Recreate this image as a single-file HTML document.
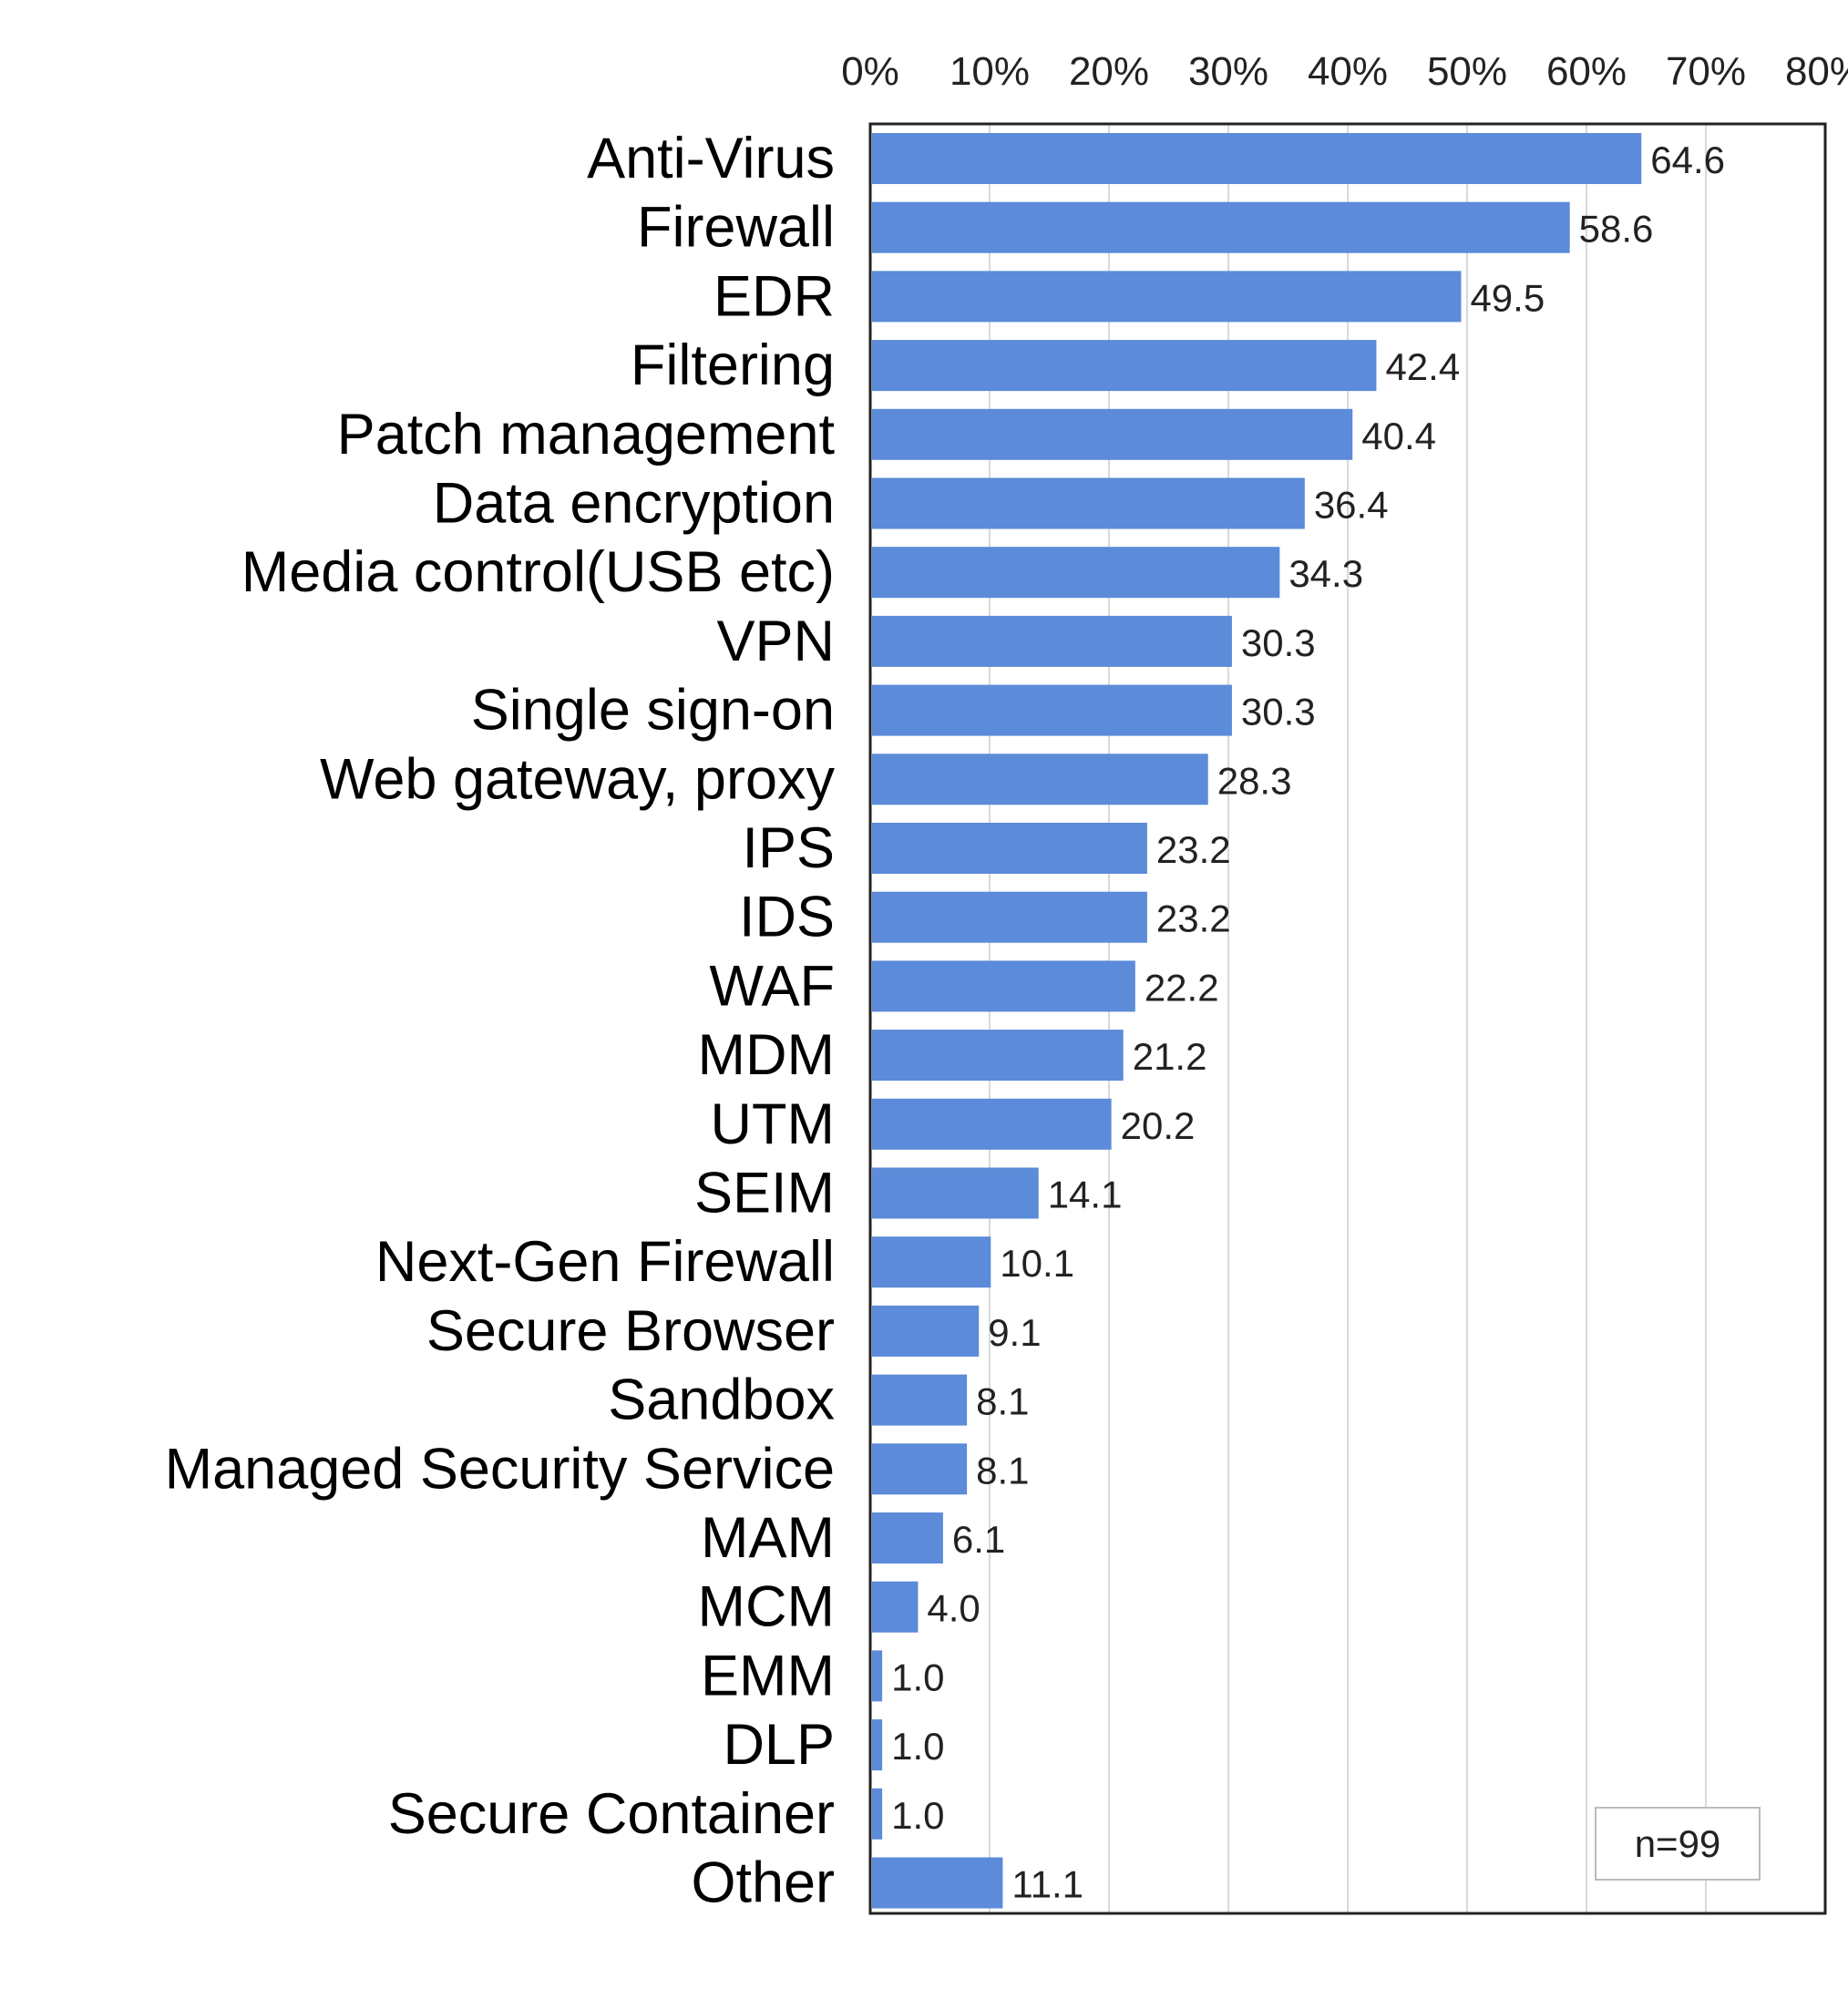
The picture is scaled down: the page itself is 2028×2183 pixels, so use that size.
<!DOCTYPE html>
<html><head><meta charset="utf-8"><style>
body{margin:0;background:#fff;}
svg{display:block;font-family:"Liberation Sans",sans-serif;}
</style></head><body>
<svg id="chart" width="2028" height="2183"></svg>
<script>
const categories=["Anti-Virus","Firewall","EDR","Filtering","Patch management","Data encryption","Media control(USB etc)","VPN","Single sign-on","Web gateway, proxy","IPS","IDS","WAF","MDM","UTM","SEIM","Next-Gen Firewall","Secure Browser","Sandbox","Managed Security Service","MAM","MCM","EMM","DLP","Secure Container","Other"];
const values=[64.6,58.6,49.5,42.4,40.4,36.4,34.3,30.3,30.3,28.3,23.2,23.2,22.2,21.2,20.2,14.1,10.1,9.1,8.1,8.1,6.1,4.0,1.0,1.0,1.0,11.1];
const ticks=[0,10,20,30,40,50,60,70,80];
const NS="http://www.w3.org/2000/svg";
const svg=document.getElementById('chart');
const L=955,R=2003,T=136,B=2100,first=174,step=75.7,bh=56;
const x=v=>L+(R-L)*v/80;
const y=i=>first+i*step;
function mk(t,a,p){const e=document.createElementNS(NS,t);for(const k in a)e.setAttribute(k,a[k]);(p||svg).appendChild(e);return e;}
ticks.forEach(t=>{
  if(t>0&&t<80){const g=mk('line',{x1:x(t),x2:x(t),y1:T,y2:B,stroke:'#d9d9d9','stroke-width':2});
  
  }
  const tx=mk('text',{x:x(t),y:93,'text-anchor':'middle','font-size':44,fill:'#222'});
  tx.textContent=t+'%';
  
  
});
categories.forEach((c,i)=>{
  const r=mk('rect',{x:L+2,y:y(i)-bh/2,width:x(values[i])-L-2,height:bh,fill:'#5b8bd9'});
  
  
  const l=mk('text',{x:916,y:y(i)+21,'text-anchor':'end','font-size':63,fill:'#000'});
  l.textContent=c;
  
  
  const v=mk('text',{x:x(values[i])+10,y:y(i)+16,'font-size':42,fill:'#222'});
  v.textContent=values[i].toFixed(1);
  
  
});
const fr=mk('rect',{x:L,y:T,width:R-L,height:B-T,fill:'none',stroke:'#222','stroke-width':3});


const nb=mk('rect',{x:1751,y:1984,width:180,height:79,fill:'#fff',stroke:'#bbb','stroke-width':2});


const nt=mk('text',{x:1841,y:2038,'text-anchor':'middle','font-size':42,fill:'#222'});
nt.textContent='n=99';


</script>
</body></html>
